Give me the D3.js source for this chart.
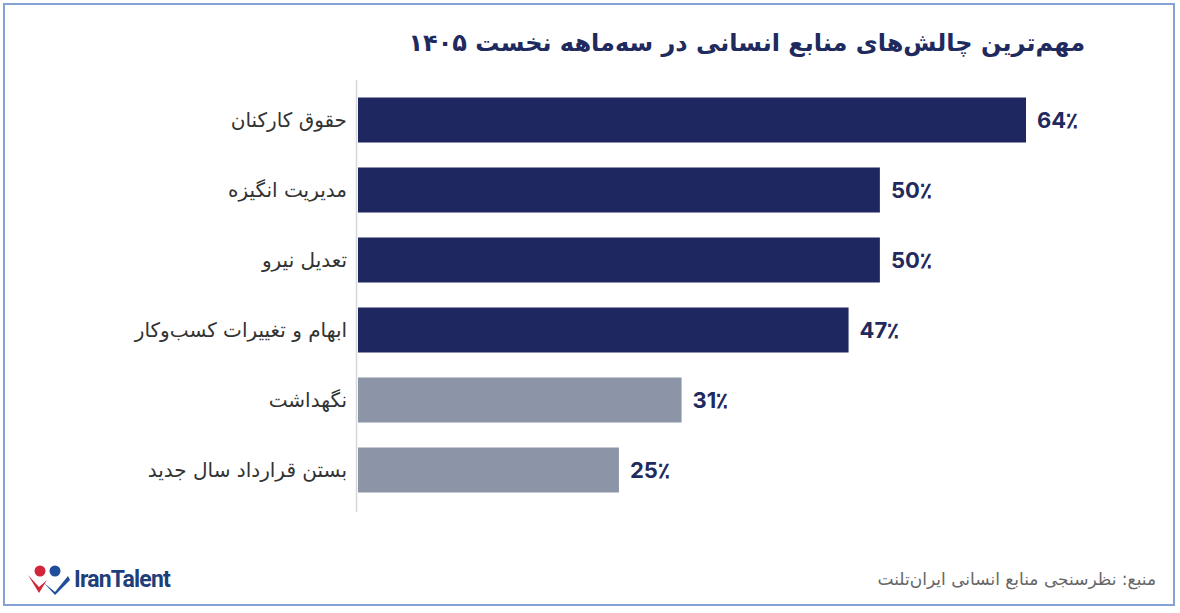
<!DOCTYPE html>
<html>
<head>
<meta charset="utf-8">
<script src="https://cdn.jsdelivr.net/npm/d3@7"></script>
<style>
  html, body { margin: 0; padding: 0; background: #fff; }
  svg { display: block; }
</style>
</head>
<body>
<div id="chart"></div>
<script>
// chart data
var categories = ["حقوق کارکنان", "مدیریت انگیزه", "تعدیل نیرو", "ابهام و تغییرات کسب‌وکار", "نگهداشت", "بستن قرارداد سال جدید"];
var values = [64, 50, 50, 47, 31, 25];
var highlighted = [true, true, true, true, false, false];
var title = "مهم‌ترین چالش‌های منابع انسانی در سه‌ماهه نخست ۱۴۰۵";
var source = "منبع: نظرسنجی منابع انسانی ایران‌تلنت";

var W = 1180, H = 613;
var margin = {top: 80, left: 357};
var plotH = 432;

var svg = d3.select("#chart").append("svg")
  .attr("width", W)
  .attr("height", H);

// frame
svg.append("rect")
  .attr("x", 4).attr("y", 4)
  .attr("width", 1170).attr("height", 601)
  .attr("fill", "#fff")
  .attr("stroke", "#86a2d4")
  .attr("stroke-width", 2);

// title
svg.append("text")
  .attr("x", 1085).attr("y", 51)
  .attr("text-anchor", "start")
  .attr("direction", "rtl")
  .attr("font-family", "DejaVu Sans, sans-serif")
  .attr("font-weight", "bold")
  .attr("font-size", 24)
  .attr("fill", "#1f2a5e")
  .text(title);

const x = d3.scaleLinear()
  .domain([0, 64])
  .range([0, 668]);

const y = d3.scaleBand()
  .domain(categories)
  .range([0, 430])
  .paddingInner(0.357)
  .paddingOuter(0.25);

const g = svg.append("g")
  .attr("transform", `translate(${margin.left}, ${margin.top})`);

// bars
g.selectAll("rect.bar")
  .data(categories)
  .join("rect")
  .attr("class", "bar")
  .attr("x", x(0) + 1)
  .attr("y", d => y(d))
  .attr("width", (d, i) => x(values[i]))
  .attr("height", y.bandwidth())
  .attr("fill", (d, i) => highlighted[i] ? "#1f2760" : "#8c95a8");

// axis line
svg.append("line")
  .attr("x1", margin.left - 0.5).attr("x2", margin.left - 0.5)
  .attr("y1", margin.top).attr("y2", margin.top + plotH)
  .attr("stroke", "#d6d6d6")
  .attr("stroke-width", 1.5);

// category labels
g.append("g")
  .attr("font-family", "DejaVu Sans, sans-serif")
  .attr("font-size", 20)
  .attr("fill", "#333")
  .selectAll("text")
  .data(categories)
  .join("text")
    .attr("x", -10)
    .attr("y", d => y(d) + y.bandwidth() / 2)
    .attr("dy", "0.35em")
    .attr("text-anchor", "end")
    .text(d => d);

// value labels
g.append("g")
  .attr("font-family", "Inter, Roboto, sans-serif")
  .attr("font-weight", "bold")
  .attr("font-size", 22)
  .attr("fill", "#1f2a5e")
  .selectAll("text")
  .data(categories)
  .join("text")
    .attr("x", (d, i) => x(values[i]) + 12)
    .attr("y", d => y(d) + y.bandwidth() / 2)
    .attr("dy", "0.35em")
    .text((d, i) => values[i] + "٪");

// source
svg.append("text")
  .attr("x", 1156).attr("y", 585)
  .attr("text-anchor", "end")
  .attr("font-family", "DejaVu Sans, sans-serif")
  .attr("font-size", 17)
  .attr("fill", "#666")
  .text(source);

// logo
var logo = svg.append("g").attr("transform", "translate(28, 566)");
logo.append("circle").attr("cx", 12).attr("cy", 5).attr("r", 5.5).attr("fill", "#d3263a");
logo.append("path").attr("d", "M0,9 L11,21 L19,14 L11,27 Z").attr("fill", "#d3263a");
logo.append("circle").attr("cx", 27).attr("cy", 5).attr("r", 5.5).attr("fill", "#1f4e9c");
logo.append("path").attr("d", "M16,17 L27,26 L40,10 L42,14 L27,29 Z").attr("fill", "#1f4e9c");
logo.append("text")
  .attr("x", 46).attr("y", 21)
  .attr("font-family", "Roboto, sans-serif")
  .attr("font-weight", "bold")
  .attr("font-size", 23)
  .attr("letter-spacing", -0.8)
  .attr("fill", "#1f3f7a")
  .text("IranTalent");
</script>
</body>
</html>
